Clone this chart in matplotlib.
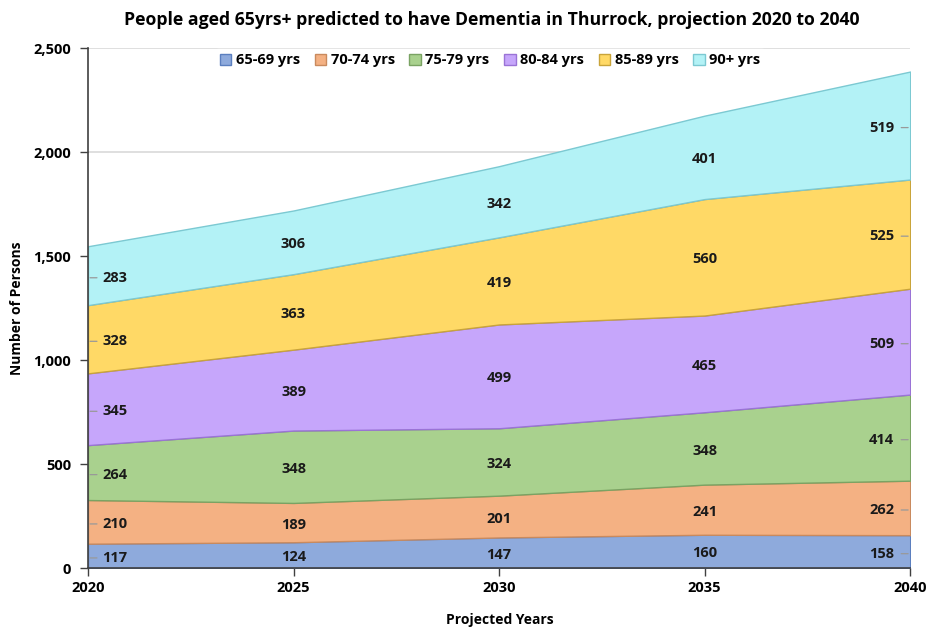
import matplotlib
matplotlib.use("Agg")
import matplotlib.pyplot as plt
import numpy as np

years = [2020, 2025, 2030, 2035, 2040]
age_groups = ["65-69 yrs", "70-74 yrs", "75-79 yrs", "80-84 yrs", "85-89 yrs", "90+ yrs"]
v65_69 = [117, 124, 147, 160, 158]
v70_74 = [210, 189, 201, 241, 262]
v75_79 = [264, 348, 324, 348, 414]
v80_84 = [345, 389, 499, 465, 509]
v85_89 = [328, 363, 419, 560, 525]
v90p = [283, 306, 342, 401, 519]
y_ticks = [0, 500, 1000, 1500, 2000, 2500]

series = [v65_69, v70_74, v75_79, v80_84, v85_89, v90p]
fills = ["#8eaadc", "#f4b183", "#a9d18e", "#c6a6fb", "#ffd966", "#b3f2f6"]
edges = ["#5b7fbf", "#c98a5e", "#7aa363", "#9a73d6", "#c9a43a", "#7cc9d2"]

plt.rcParams['font.family'] = ['Open Sans', 'DejaVu Sans']
fig = plt.figure(figsize=(9.28, 6.28), dpi=100)
ax = fig.add_axes([0.0948, 0.0955, 0.886, 0.828])

ax.set_axisbelow(True)
ax.grid(axis='y', color='#d9d9d9', linewidth=1.2)
base = np.zeros(len(years))
handles = []
for vals, fc, ec, name in zip(series, fills, edges, age_groups):
    v = np.array(vals, dtype=float)
    h = ax.fill_between(years, base, base + v, facecolor=fc, edgecolor=ec, linewidth=1.0, label=name, zorder=2)
    handles.append(h)
    for i, (x, val) in enumerate(zip(years, vals)):
        mid = base[i] + val / 2 - 10
        if i == 0:
            ax.annotate(str(val), xy=(x + 0.05, mid), xytext=(9, 0), textcoords='offset points',
                        ha='left', va='center', fontsize=10.5, fontweight='bold', color='#1a1a1a',
                        arrowprops=dict(arrowstyle='-', color='#999999', lw=0.9,
                                        shrinkA=2, shrinkB=0), zorder=5)
        elif i == len(years) - 1:
            ax.annotate(str(val), xy=(x - 0.05, mid), xytext=(-10, 0), textcoords='offset points',
                        ha='right', va='center', fontsize=10.5, fontweight='bold', color='#1a1a1a',
                        arrowprops=dict(arrowstyle='-', color='#999999', lw=0.9,
                                        shrinkA=3, shrinkB=0), zorder=5)
        else:
            ax.text(x, mid, str(val), ha='center', va='center', fontsize=10.5,
                    fontweight='bold', color='#1a1a1a', zorder=5)
    base = base + v

ax.set_xlim(2020, 2040)
ax.set_ylim(0, 2500)
ax.set_xticks(years)
ax.set_xticklabels([str(y) for y in years], fontsize=10.5, fontweight='bold')
ax.set_yticks(y_ticks)
ax.set_yticklabels([f"{t:,}" for t in y_ticks], fontsize=10.5, fontweight='bold')
ax.tick_params(axis='both', length=6, color='#404040', width=1)
ax.tick_params(axis='x', pad=3)
ax.tick_params(axis='y', pad=6)
for s in ['top', 'right']:
    ax.spines[s].set_visible(False)
for s in ['left', 'bottom']:
    ax.spines[s].set_color('#404040')
    ax.spines[s].set_linewidth(1.2)
    ax.spines[s].set_zorder(6)

ax.set_xlabel("Projected Years", fontsize=10, fontweight='bold', va='center')
ax.xaxis.set_label_coords(0.501, -0.1)
ax.set_ylabel("Number of Persons", fontsize=10, fontweight='bold', labelpad=7)

leg = ax.legend(handles=handles, loc='upper center', bbox_to_anchor=(0.489, 1.012), ncol=6,
                frameon=True, fontsize=10.5, handlelength=0.8, handleheight=0.8,
                handletextpad=0.3, columnspacing=1.0, borderpad=0.3)
leg.get_frame().set_facecolor('white')
leg.get_frame().set_edgecolor('white')
leg.get_frame().set_alpha(1)
for t in leg.get_texts():
    t.set_fontweight('bold')

fig.text(0.530, 0.968, "People aged 65yrs+ predicted to have Dementia in Thurrock, projection 2020 to 2040",
         ha='center', va='center', fontsize=12.7, fontweight='bold')

fig.savefig("out.png", dpi=100)
